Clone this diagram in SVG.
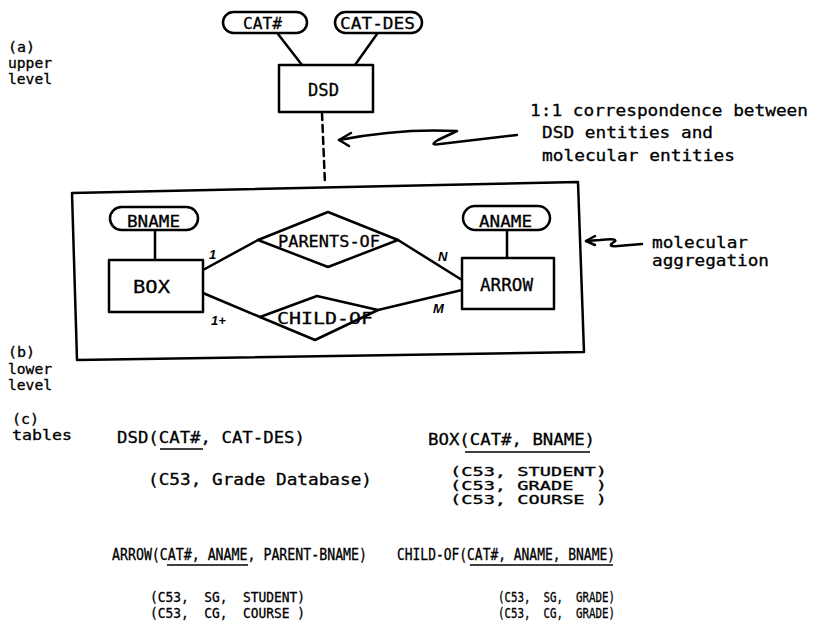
<svg xmlns="http://www.w3.org/2000/svg" width="825" height="643" viewBox="0 0 825 643">
<style>
.t{font-family:"DejaVu Sans Mono","Liberation Mono",monospace;fill:#000;stroke:#000;stroke-width:0.3;white-space:pre}
.s{fill:none;stroke:#000;stroke-width:2.5;stroke-linejoin:round;stroke-linecap:round}
.n{fill:#fff;stroke:#000;stroke-width:2.5;stroke-linejoin:round}
.u{stroke:#000;stroke-width:1.5}
.lbl{font-family:"Liberation Sans",sans-serif;font-weight:bold;font-style:italic;font-size:13px;fill:#000}
</style>
<rect width="825" height="643" fill="#fff"/>

<g id="connectors">
  <line class="s" x1="278" y1="34" x2="302" y2="65"/>
  <line class="s" x1="377" y1="34" x2="355" y2="65"/>
  <line class="s" x1="322" y1="113" x2="325" y2="184" stroke-dasharray="7 5" stroke-linecap="butt"/>
  <line class="s" x1="155" y1="230" x2="155" y2="260"/>
  <line class="s" x1="507" y1="230" x2="507" y2="258"/>
  <line class="s" x1="203" y1="270" x2="258" y2="240"/>
  <line class="s" x1="398" y1="240" x2="462" y2="280"/>
  <line class="s" x1="203" y1="293" x2="260" y2="317"/>
  <line class="s" x1="378" y1="310" x2="462" y2="290"/>
  <path class="s" d="M517,135 L440,144 Q428,146 438,140 L457,131 Q400,128 339,140"/>
  <path class="s" d="M351,133 L339,140 L349,146"/>
  <path class="s" d="M642,244 L618,246 Q606,247 614,242 Q620,238 600,240 L586,241"/>
  <path class="s" d="M595,236 L586,241 L595,245"/>
</g>

<g id="aggregation-box">
  <polygon class="s" points="72,193 578,182 584,352 77,360"/>
</g>

<g id="cat-num">
  <rect class="n" x="223" y="12" width="84" height="21" rx="10.5"/>
  <text class="t" x="243" y="29" font-size="16" textLength="39" lengthAdjust="spacingAndGlyphs">CAT#</text>
</g>
<g id="cat-des">
  <rect class="n" x="335" y="12" width="87" height="21" rx="10.5"/>
  <text class="t" x="340" y="29" font-size="16" textLength="75" lengthAdjust="spacingAndGlyphs">CAT-DES</text>
</g>
<g id="dsd">
  <rect class="n" x="279" y="65" width="94" height="47"/>
  <text class="t" x="308" y="96" font-size="17" textLength="31" lengthAdjust="spacingAndGlyphs">DSD</text>
</g>

<g id="bname">
  <rect class="n" x="110" y="207" width="88" height="23" rx="11.5"/>
  <text class="t" x="127" y="227" font-size="16" textLength="53" lengthAdjust="spacingAndGlyphs">BNAME</text>
</g>
<g id="aname">
  <rect class="n" x="463" y="206" width="87" height="24" rx="12"/>
  <text class="t" x="479" y="227" font-size="16" textLength="53" lengthAdjust="spacingAndGlyphs">ANAME</text>
</g>
<g id="box">
  <rect class="n" x="109" y="260" width="94" height="52"/>
  <text class="t" x="133" y="293" font-size="18" textLength="37" lengthAdjust="spacingAndGlyphs">BOX</text>
</g>
<g id="arrow">
  <rect class="n" x="462" y="258" width="92" height="51"/>
  <text class="t" x="480" y="291" font-size="17" textLength="53" lengthAdjust="spacingAndGlyphs">ARROW</text>
</g>
<g id="parents-of">
  <polygon class="n" points="258,240 328,212 398,240 328,267"/>
  <text class="t" x="278" y="247" font-size="16" textLength="102" lengthAdjust="spacingAndGlyphs">PARENTS-OF</text>
</g>
<g id="child-of">
  <polygon class="n" points="260,317 317,296 378,310 315,340"/>
  <text class="t" x="277" y="324" font-size="16" textLength="96" lengthAdjust="spacingAndGlyphs">CHILD-OF</text>
</g>

<g id="edge-labels">
  <text class="lbl" x="209" y="259">1</text>
  <text class="lbl" x="438" y="261">N</text>
  <text class="lbl" x="211" y="325">1+</text>
  <text class="lbl" x="433" y="313">M</text>
</g>

<g id="side-labels">
  <text class="t" x="8" y="52" font-size="14" textLength="27" lengthAdjust="spacingAndGlyphs">(a)</text>
  <text class="t" x="8" y="68" font-size="14" textLength="44" lengthAdjust="spacingAndGlyphs">upper</text>
  <text class="t" x="8" y="84" font-size="14" textLength="44" lengthAdjust="spacingAndGlyphs">level</text>
  <text class="t" x="8" y="357" font-size="14" textLength="27" lengthAdjust="spacingAndGlyphs">(b)</text>
  <text class="t" x="8" y="374" font-size="14" textLength="44" lengthAdjust="spacingAndGlyphs">lower</text>
  <text class="t" x="8" y="390" font-size="14" textLength="44" lengthAdjust="spacingAndGlyphs">level</text>
  <text class="t" x="12" y="424" font-size="14" textLength="27" lengthAdjust="spacingAndGlyphs">(c)</text>
  <text class="t" x="12" y="440" font-size="14" textLength="60" lengthAdjust="spacingAndGlyphs">tables</text>
</g>

<g id="notes">
  <text class="t" x="530" y="116" font-size="16" textLength="278" lengthAdjust="spacingAndGlyphs">1:1 correspondence between</text>
  <text class="t" x="542" y="138" font-size="16" textLength="171" lengthAdjust="spacingAndGlyphs">DSD entities and</text>
  <text class="t" x="542" y="161" font-size="16" textLength="193" lengthAdjust="spacingAndGlyphs">molecular entities</text>
  <text class="t" x="652" y="248" font-size="16" textLength="96" lengthAdjust="spacingAndGlyphs">molecular</text>
  <text class="t" x="652" y="266" font-size="16" textLength="117" lengthAdjust="spacingAndGlyphs">aggregation</text>
</g>

<g id="tables">
  <text class="t" x="117" y="443" font-size="16" textLength="188" lengthAdjust="spacingAndGlyphs">DSD(CAT#, CAT-DES)</text>
  <line class="u" x1="160" y1="449" x2="203" y2="449"/>
  <text class="t" x="148" y="485" font-size="16" textLength="224" lengthAdjust="spacingAndGlyphs">(C53, Grade Database)</text>

  <text class="t" x="428" y="445" font-size="16" textLength="167" lengthAdjust="spacingAndGlyphs">BOX(CAT#, BNAME)</text>
  <line class="u" x1="465" y1="452" x2="590" y2="452"/>
  <text class="t" x="450" y="476" font-size="12.5" textLength="157" lengthAdjust="spacingAndGlyphs" xml:space="preserve">(C53, STUDENT)</text>
  <text class="t" x="450" y="490" font-size="12.5" textLength="157" lengthAdjust="spacingAndGlyphs" xml:space="preserve">(C53, GRADE  )</text>
  <text class="t" x="450" y="504" font-size="12.5" textLength="157" lengthAdjust="spacingAndGlyphs" xml:space="preserve">(C53, COURSE )</text>

  <text class="t" x="112" y="560" font-size="15" textLength="255" lengthAdjust="spacingAndGlyphs">ARROW(CAT#, ANAME, PARENT-BNAME)</text>
  <line class="u" x1="167" y1="565" x2="248" y2="565"/>
  <text class="t" x="397" y="560" font-size="15" textLength="218" lengthAdjust="spacingAndGlyphs">CHILD-OF(CAT#, ANAME, BNAME)</text>
  <line class="u" x1="470" y1="565" x2="613" y2="565"/>

  <text class="t" x="150" y="602" font-size="14" textLength="155" lengthAdjust="spacingAndGlyphs" xml:space="preserve">(C53,  SG,  STUDENT)</text>
  <text class="t" x="150" y="618" font-size="14" textLength="155" lengthAdjust="spacingAndGlyphs" xml:space="preserve">(C53,  CG,  COURSE )</text>
  <text class="t" x="498" y="602" font-size="14" textLength="117" lengthAdjust="spacingAndGlyphs" xml:space="preserve">(C53,  SG,  GRADE)</text>
  <text class="t" x="498" y="618" font-size="14" textLength="117" lengthAdjust="spacingAndGlyphs" xml:space="preserve">(C53,  CG,  GRADE)</text>
</g>
</svg>
